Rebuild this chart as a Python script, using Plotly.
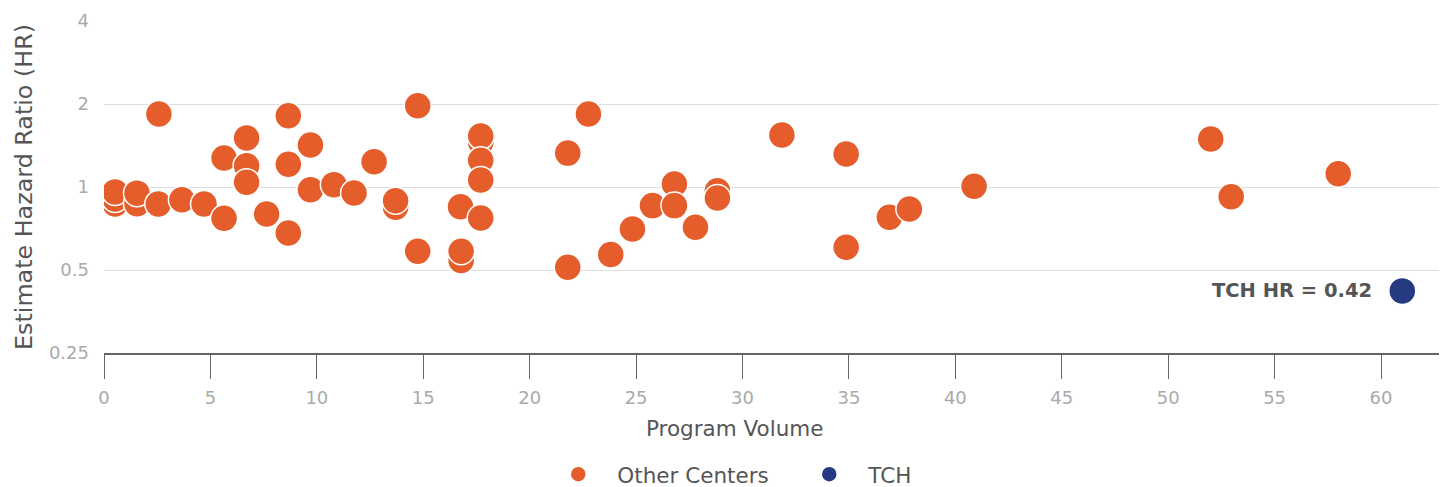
import plotly.graph_objects as go
import numpy as np

# Other centers: program volume and estimated hazard ratio
other_volume = [0.52, 0.52, 0.52, 1.55, 1.55, 2.55, 2.58, 3.66, 4.7,
                5.64, 5.64, 6.7, 6.7, 6.7, 7.64, 8.66, 8.66, 8.66,
                9.7, 9.7, 10.8, 11.75, 12.69, 13.7, 13.7, 14.74, 14.74,
                16.75, 16.78, 16.78, 17.7, 17.7, 17.7, 17.7, 17.7,
                21.79, 21.79, 22.76, 23.81, 24.83, 25.77, 26.8, 26.8,
                27.79, 28.82, 28.82, 31.85, 34.87, 34.87, 36.9, 37.84,
                40.88, 52.0, 52.96, 57.99]
other_hr = [0.868, 0.905, 0.96, 0.87, 0.95, 0.868, 1.84, 0.899, 0.868,
            1.274, 0.770, 1.505, 1.195, 1.04, 0.798, 1.813, 1.21, 0.681,
            1.42, 0.978, 1.02, 0.951, 1.235, 0.844, 0.892, 1.97, 0.585,
            0.848, 0.541, 0.585, 1.45, 1.53, 1.25, 1.06, 0.772,
            1.327, 0.512, 1.84, 0.569, 0.704, 0.856, 1.025, 0.856,
            0.714, 0.970, 0.912, 1.543, 1.317, 0.605, 0.777, 0.832,
            1.006, 1.493, 0.922, 1.117]

tch_volume = [61.0]
tch_hr = [0.42]

y_ticks = [0.25, 0.5, 1, 2, 4]
y_tick_labels = ["0.25", "0.5", "1", "2", "4"]

ORANGE = "#E45D2B"
NAVY = "#263A82"
FONT = "DejaVu Sans"

fig = go.Figure()
fig.add_trace(go.Scatter(
    x=other_volume, y=other_hr, mode="markers", name="Other Centers",
    marker=dict(size=27, color=ORANGE, line=dict(color="white", width=1.5)),
))
fig.add_trace(go.Scatter(
    x=tch_volume, y=tch_hr, mode="markers", name="TCH",
    marker=dict(size=27, color=NAVY, line=dict(color="white", width=1.5)),
))

fig.add_annotation(
    x=tch_volume[0], y=np.log10(tch_hr[0]), xref="x", yref="y",
    text="<b>TCH HR = %.2f</b>" % tch_hr[0], showarrow=False,
    xanchor="right", xshift=-28, font=dict(family=FONT, size=19.5, color="#555555"),
)
fig.add_annotation(
    x=0.47, y=-0.226, xref="paper", yref="paper", text="Program Volume",
    showarrow=False, xanchor="center", yanchor="middle",
    font=dict(family=FONT, size=21.5, color="#555555"),
)
fig.add_annotation(
    x=-0.0596, y=0.5, xref="paper", yref="paper", text="Estimate Hazard Ratio (HR)",
    showarrow=False, xanchor="center", yanchor="middle", textangle=-90,
    font=dict(family=FONT, size=23.8, color="#555555"),
)

fig.update_xaxes(
    range=[0, 63.1], dtick=5, tick0=0, showgrid=False, zeroline=False,
    showline=True, linecolor="#666666", linewidth=1.5, automargin=False,
    ticks="outside", ticklen=24, tickcolor="#666666", tickwidth=1.2,
    ticklabelstandoff=4,
    tickfont=dict(family=FONT, size=18, color="#AAAAAA"),
)
fig.update_yaxes(
    type="log", range=[np.log10(0.25), np.log10(4)], automargin=False,
    tickvals=y_ticks, ticktext=y_tick_labels, showgrid=True,
    gridcolor="#DDDDDD", gridwidth=1.2, zeroline=False, showline=False,
    ticks="", ticklabelstandoff=14,
    tickfont=dict(family=FONT, size=18, color="#AAAAAA"),
)

# The page body has an 8px margin, so the figure is made 8px smaller and
# margins are reduced accordingly to keep the plot area where the reference has it.
fig.update_layout(
    width=1439, height=479,
    margin=dict(l=96, r=0, t=13, b=134, autoexpand=False),
    plot_bgcolor="white", paper_bgcolor="white",
    font=dict(family=FONT),
    showlegend=True,
    legend=dict(orientation="h", x=0.511, xanchor="center", y=-0.365, yanchor="middle",
                font=dict(family=FONT, size=21.5, color="#555555"),
                itemsizing="trace", itemwidth=68, entrywidth=168),
)

fig.write_html("out.html")
